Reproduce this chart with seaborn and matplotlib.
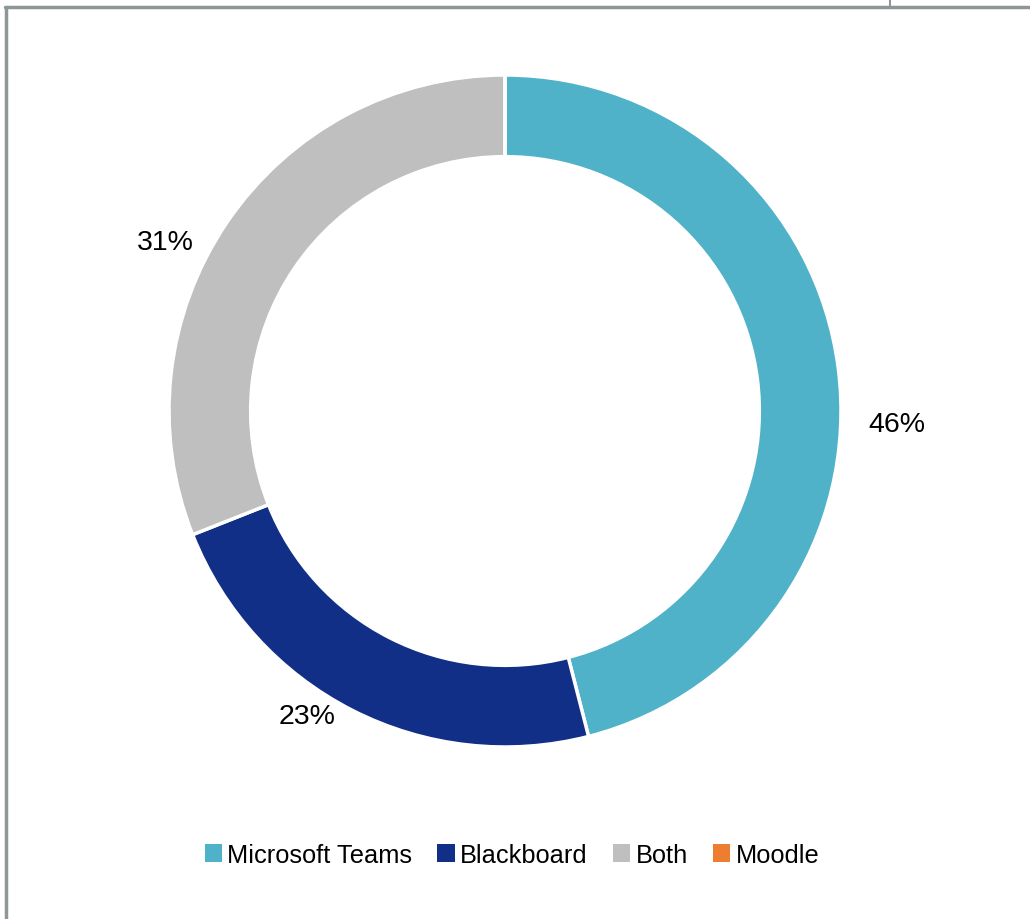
import matplotlib
matplotlib.use("Agg")
import matplotlib.pyplot as plt
import seaborn as sns
import numpy as np
from matplotlib.lines import Line2D
from matplotlib.patches import Patch

categories = ["Microsoft Teams", "Blackboard", "Both", "Moodle"]
values = [46, 23, 31, 0]
labels = ["46%", "23%", "31%", ""]

sns.set_theme(style="white")
plt.rcParams['font.family'] = ['Liberation Sans', 'DejaVu Sans']

colors = ["#4FB2C8", "#122F88", "#BFBFBF", "#ED7D31"]

fig = plt.figure(figsize=(10.3, 9.2), dpi=100)
fig.patch.set_facecolor("white")

W, H = 1030, 920
cx, cy, R = 505, 412, 336
ax = fig.add_axes([(cx - R) / W, (H - cy - R) / H, 2 * R / W, 2 * R / H])
wedges, _ = ax.pie(values, colors=colors, startangle=90, counterclock=False,
                   radius=1.0, wedgeprops=dict(width=0.243, edgecolor="white", linewidth=2.5))
ax.set_xlim(-1, 1)
ax.set_ylim(-1, 1)
ax.set_aspect("equal")
ax.axis("off")

# label placement (polar: radius, angle offset in degrees from wedge middle)
label_style = [(1.168, -9.1), (1.082, -6.0), (1.13, 7.8), (1.1, 0.0)]
cum = np.cumsum([0] + values[:-1])
total = sum(values)
for lab, v, c0, (r, off) in zip(labels, values, cum, label_style):
    if not lab:
        continue
    mid = 90 - (c0 + v / 2) / total * 360 + off
    a = np.deg2rad(mid)
    ax.text(r * np.cos(a), r * np.sin(a), lab, ha="center", va="center",
            fontsize=20.5, color="black", clip_on=False)

handles = [Patch(facecolor=c, edgecolor="none") for c in colors]
fig.legend(handles, categories, loc="center", bbox_to_anchor=(512 / W, 1 - 856 / H),
           ncol=4, frameon=False, fontsize=18.3, handlelength=0.68, handleheight=0.68,
           handletextpad=0.22, columnspacing=0.98, borderpad=0, labelcolor="black")

# chart-area border
bc = "#8E9698"
fig.add_artist(Line2D([5.5 / W, 5.5 / W], [0, 1 - 7.5 / H], transform=fig.transFigure, color=bc, lw=2.5))
fig.add_artist(Line2D([4.5 / W, 1], [1 - 7.5 / H, 1 - 7.5 / H], transform=fig.transFigure, color=bc, lw=2.5))
fig.add_artist(Line2D([890 / W, 890 / W], [1 - 7.5 / H, 1], transform=fig.transFigure, color=bc, lw=1.5))

fig.savefig("out.png", dpi=100, facecolor="white")
